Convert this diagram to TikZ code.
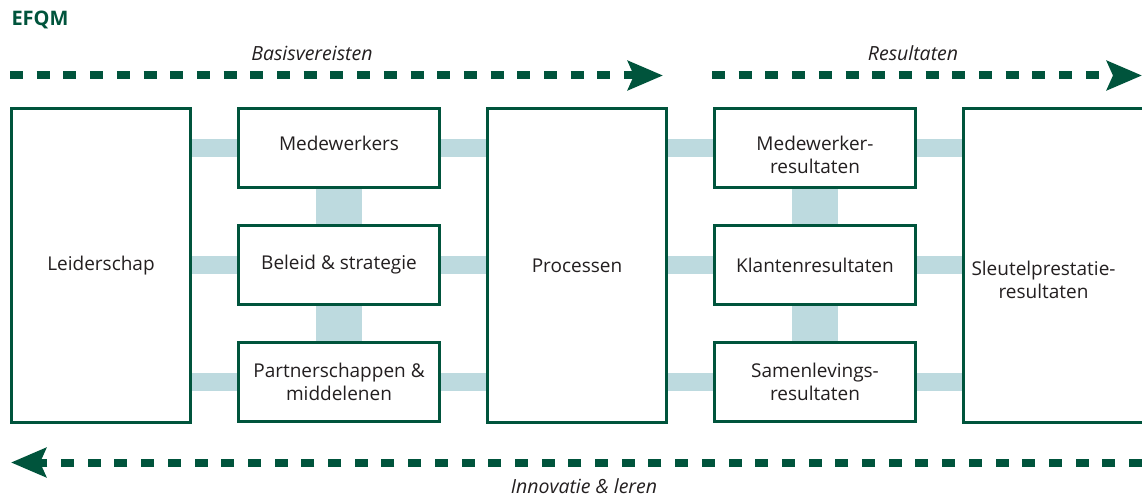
\documentclass[tikz,border=0pt]{standalone}
\usepackage{fontspec}
\setmainfont{Open Sans}
\usetikzlibrary{arrows.meta,positioning,backgrounds}
\definecolor{efqmgreen}{RGB}{0,84,60}
\definecolor{barblue}{RGB}{189,218,223}
\definecolor{txtgray}{RGB}{35,31,32}

\begin{document}
\begin{tikzpicture}[x=1pt,y=-1pt,font=\fontsize{19}{23}\selectfont,text=txtgray,
	bigbox/.style={draw=efqmgreen,line width=3pt,fill=white,minimum width=179pt,minimum height=314pt,inner sep=0pt,align=center},
	smallbox/.style={draw=efqmgreen,line width=3pt,fill=white,minimum width=201pt,minimum height=79pt,inner sep=0pt,align=center},
	bar/.style={barblue,line width=18pt},
	vbar/.style={barblue,line width=46pt},
	flow/.style={efqmgreen,line width=8pt,dash pattern=on 13pt off 13.7pt,-{Stealth[length=35pt,width=29pt,inset=6pt]}},
	flowtext/.style={inner sep=0pt,font=\fontsize{19.5}{23}\selectfont\itshape}]
	\useasboundingbox (0,0) rectangle (1142,497);

	\node[anchor=west,text=efqmgreen,font=\fontsize{20}{24}\selectfont\bfseries] (title) at (8,20) {EFQM};

	\node[bigbox] (lead) at (101,265.5) {Leiderschap};
	\node[smallbox,text depth=10pt] (mw) [right=45pt of lead.north east,anchor=north west] {Medewerkers};
	\node[smallbox] (bs) [below=35pt of mw] {Beleid \& strategie};
	\node[smallbox] (pm) [below=35pt of bs] {Partnerschappen \&\\middelenen};
	\node[bigbox] (proc) [right=45pt of mw.north east,anchor=north west] {Processen};
	\node[smallbox,text height=51pt] (mwr) [right=45pt of proc.north east,anchor=north west] {Medewerker-\\resultaten};
	\node[smallbox] (kr) [below=35pt of mwr] {Klantenresultaten};
	\node[smallbox] (sr) [below=35pt of kr] {Samenlevings-\\resultaten};
	\node[bigbox,minimum width=200pt,label={[align=center,xshift=-20pt,yshift=-14pt]center:Sleutelprestatie-\\resultaten}] (slp) [right=45pt of mwr.north east,anchor=north west] {};

	% connecting bars behind the boxes
	\begin{scope}[on background layer]
		\foreach \row in {mw,bs,pm} {\draw[bar] (\row -| lead) -- (\row -| proc);}
		\foreach \row in {mwr,kr,sr} {\draw[bar] (\row -| proc) -- (\row -| slp);}
		\draw[vbar] (mw) -- (pm);
		\draw[vbar] (mwr) -- (sr);
	\end{scope}

	% flows
	\coordinate (b1) at (10,75.5);
	\coordinate (b2) at (663,75.5);
	\coordinate (r1) at (712,75.5);
	\coordinate (r2) at (1142,75.5);
	\coordinate (i1) at (1142,462.5);
	\coordinate (i2) at (11,462.5);
	\draw[flow] (b1) -- (b2);
	\draw[flow] (r1) -- (r2);
	\draw[flow] (i1) -- (i2);
	\node[flowtext] (basis) at (312,53) {Basisvereisten};
	\node[flowtext] (res) at (913,53) {Resultaten};
	\node[flowtext] (inno) at (584,486) {Innovatie \& leren};
\end{tikzpicture}
\end{document}
